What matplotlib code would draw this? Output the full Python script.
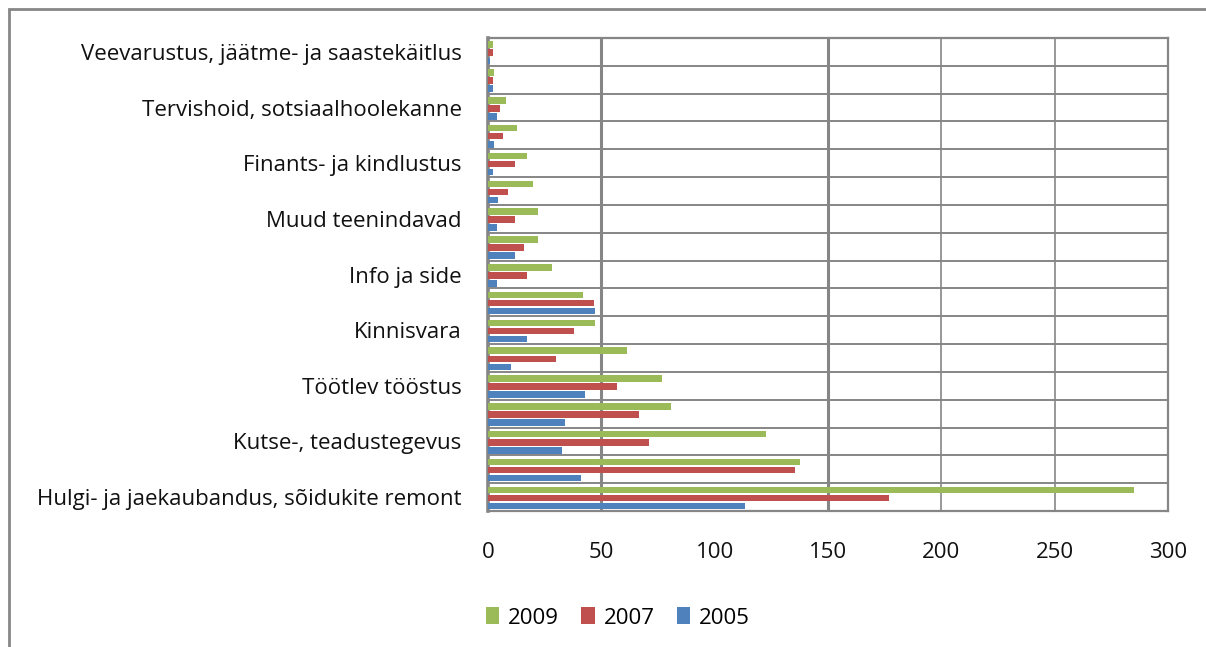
import matplotlib
matplotlib.use("Agg")
import matplotlib.pyplot as plt
from matplotlib.patches import Rectangle, Patch
import numpy as np

plt.rcParams['font.family'] = ['Open Sans', 'DejaVu Sans']

# Categories listed top to bottom ("" = unlabeled rows in the original)
categories = [
    "Veevarustus, jäätme- ja saastekäitlus", "",
    "Tervishoid, sotsiaalhoolekanne", "",
    "Finants- ja kindlustus", "",
    "Muud teenindavad", "",
    "Info ja side", "",
    "Kinnisvara", "",
    "Töötlev tööstus", "",
    "Kutse-, teadustegevus", "",
    "Hulgi- ja jaekaubandus, sõidukite remont",
]
v2009 = [2, 2.5, 7.8, 12.7, 17, 19.7, 21.9, 21.9, 28.1, 41.8, 47.1, 61.2, 76.6, 80.6, 122.5, 137.5, 285]
v2007 = [2, 2, 5.2, 6.5, 11.8, 8.7, 11.8, 15.7, 17, 46.6, 37.8, 29.9, 56.8, 66.5, 70.9, 135.3, 176.8]
v2005 = [0.7, 2, 3.8, 2.5, 2, 4.3, 3.8, 11.8, 3.8, 47.1, 17, 10, 42.7, 33.8, 32.5, 40.9, 113.2]
series_labels = ["2009", "2007", "2005"]
colors = ["#9BBB59", "#C0504D", "#4F81BD"]
xticks = [0, 50, 100, 150, 200, 250, 300]

n = len(categories)
y = np.arange(n)[::-1]  # top category gets highest y

fig = plt.figure(figsize=(12.06, 6.47), dpi=100)
ax = fig.add_axes([488/1206, 1-511/647, (1168-488)/1206, (511-38)/647])

h = 0.235
shift = -0.03
sp = 0.29
for vals, col, off in zip([v2009, v2007, v2005], colors, [sp, 0, -sp]):
    ax.barh(y + off + shift, vals, height=h, color=col, zorder=3)

fs = 16
ax.set_xlim(0, 300)
ax.set_ylim(-0.5, n - 0.5)
ax.set_xticks(xticks)
ax.set_xticklabels([str(t) for t in xticks], fontsize=fs)
ax.set_yticks(y)
ax.set_yticklabels(categories, fontsize=fs)
ax.tick_params(axis='both', length=0, labelcolor='#111111')
ax.tick_params(axis='x', pad=22)
ax.tick_params(axis='y', pad=19)

grid_col = "#868686"
# horizontal category gridlines
for b in np.arange(n - 1) + 0.5:
    ax.axhline(b, color=grid_col, lw=1.4, zorder=1)
# vertical value gridlines (as visible in the reference)
for gx, lw in zip([50, 150, 200, 250], [2.2, 2.2, 1.2, 1.2]):
    ax.axvline(gx, color=grid_col, lw=lw, zorder=1)

for s in ['top', 'right', 'bottom']:
    ax.spines[s].set_color(grid_col)
    ax.spines[s].set_linewidth(1.6)
ax.spines['left'].set_color(grid_col)
ax.spines['left'].set_linewidth(2.6)

handles = [Patch(facecolor=c, edgecolor='none') for c in colors]
fig.legend(handles, series_labels, loc='center', bbox_to_anchor=(618/1206, 1-618/647),
           ncol=3, frameon=False, fontsize=fs, handlelength=0.6, handleheight=0.8,
           handletextpad=0.4, columnspacing=1.0)

# outer chart border (partially visible)
fig.add_artist(Rectangle((9/1206, -0.05), 1.2, 1 - 9/647 + 0.05, transform=fig.transFigure,
                         fill=False, edgecolor=grid_col, lw=2))

fig.savefig("out.png", dpi=100)
